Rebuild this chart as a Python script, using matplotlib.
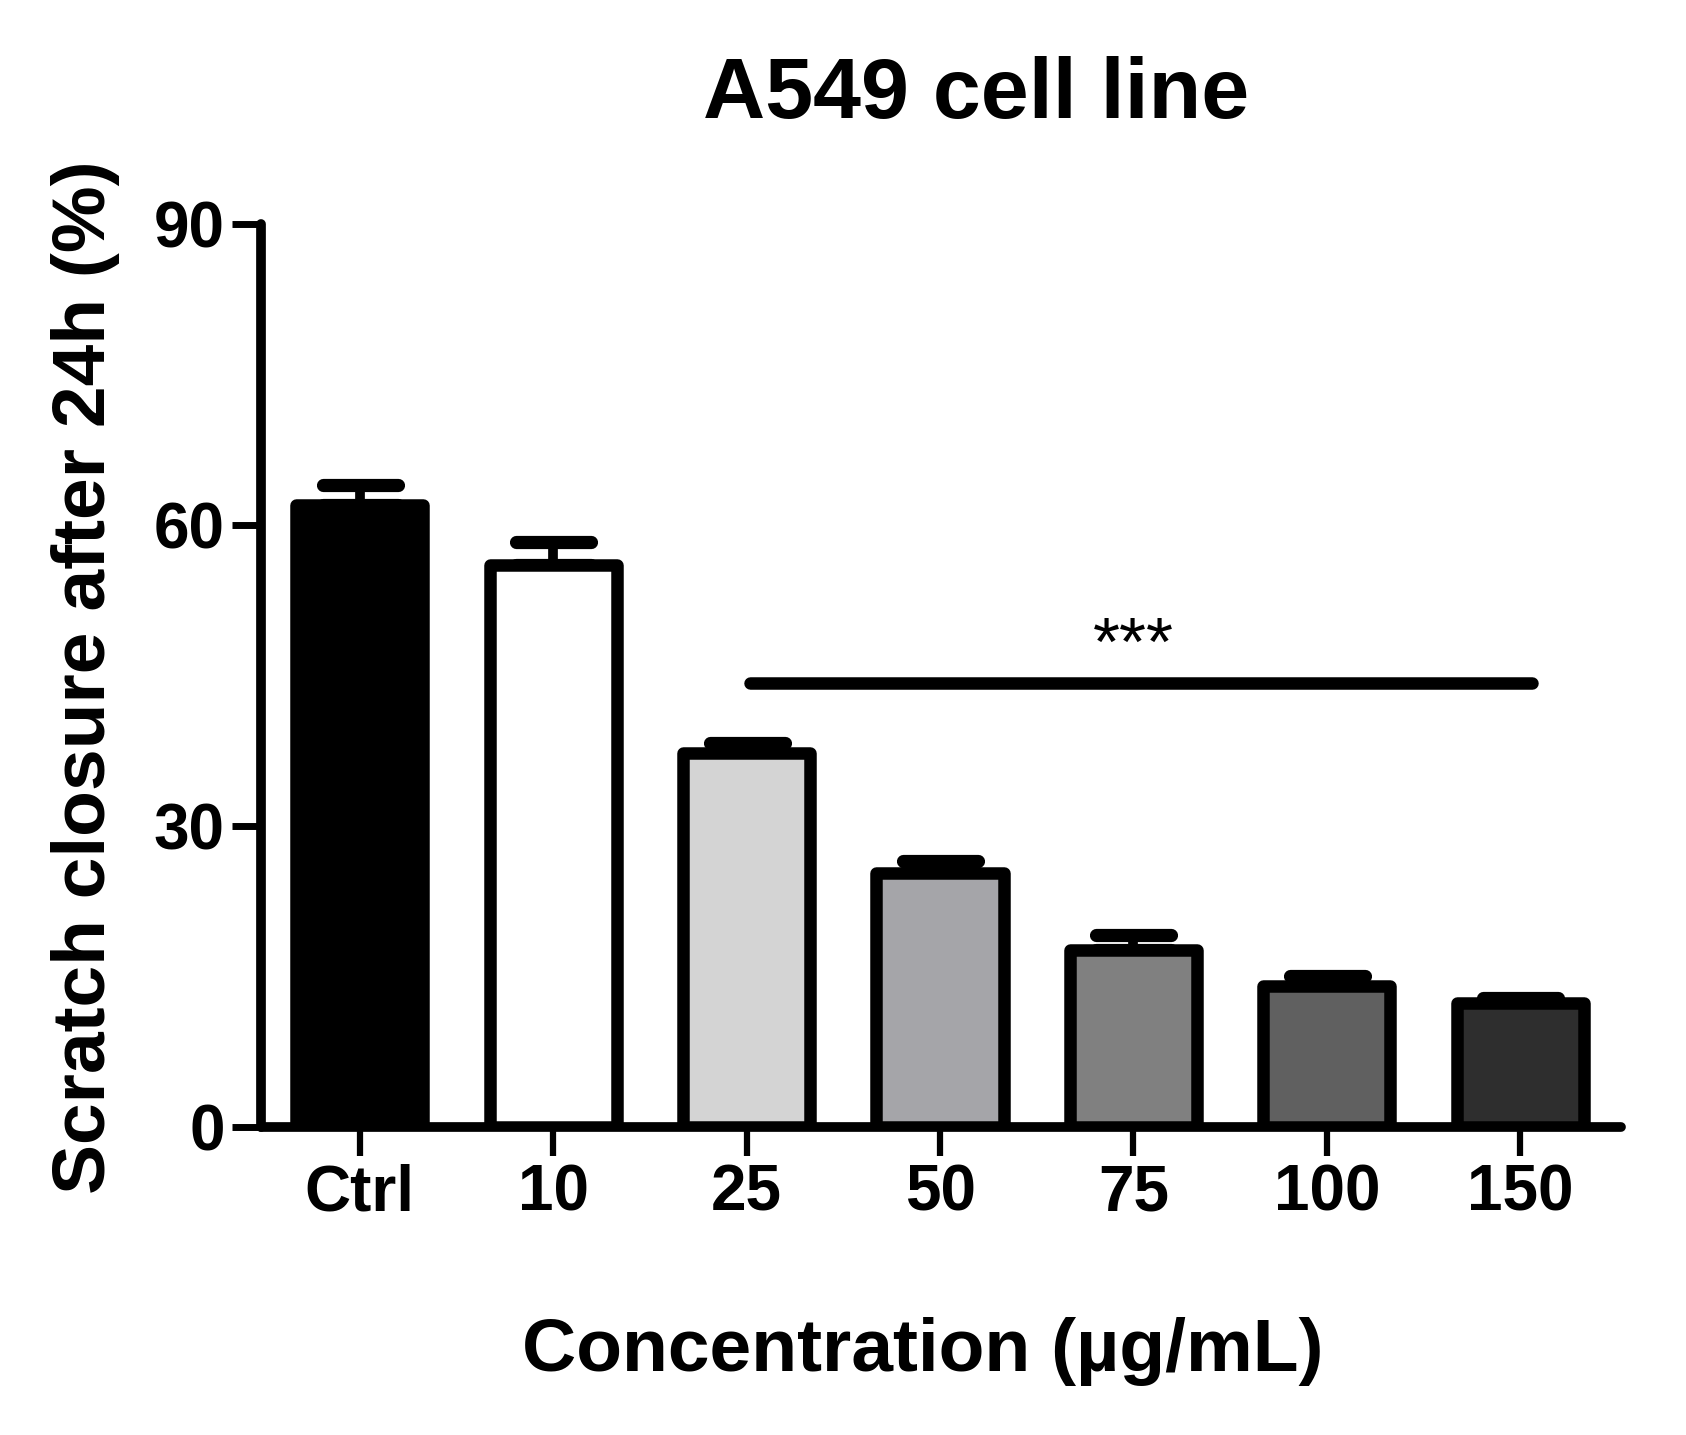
import matplotlib
matplotlib.use("Agg")
import matplotlib.pyplot as plt
from matplotlib.markers import MarkerStyle
import numpy as np

plt.rcParams['font.family'] = ['Liberation Sans', 'DejaVu Sans']

categories = ["Ctrl", "10", "25", "50", "75", "100", "150"]
means = [62.0, 56.0, 37.3, 25.3, 17.6, 14.0, 12.4]
errors = [2.0, 2.3, 1.0, 1.2, 1.5, 1.0, 0.5]
colors = ["#000000", "#ffffff", "#d4d4d4", "#a5a5a9", "#808080", "#606060", "#2e2e2e"]
yticks = [0, 30, 60, 90]
sig_start, sig_end = "25", "150"
sig_y = 44.2
sig_text_y = 46.0

fig = plt.figure(figsize=(16.86, 14.35), dpi=100)
ax = fig.add_axes([261/1686, 1 - 1127/1435, (1621 - 261)/1686, (1127 - 223.7)/1435])

x = np.arange(len(categories))
eb = ax.errorbar(x, means, yerr=[np.zeros(len(means)), errors], fmt='none',
                 ecolor='black', elinewidth=7, capsize=27, capthick=9.5, zorder=2)
for cl in eb[1]:
    cl.set_marker(MarkerStyle('_', capstyle='round'))
ax.bar(x, means, width=0.657, color=colors, edgecolor='black', linewidth=9,
       joinstyle='round', zorder=3)

i0, i1 = categories.index(sig_start), categories.index(sig_end)
ax.plot([x[i0] + 0.02, x[i1] + 0.06], [sig_y, sig_y], color='black', lw=9,
        solid_capstyle='round', zorder=4)
ax.text((x[i0] + x[i1]) / 2, sig_text_y, "***", ha='center', va='baseline',
        fontsize=50, zorder=4)

ax.set_xlim(-0.51, 6.52)
ax.set_ylim(0, 90)
ax.set_xticks(x)
ax.set_xticklabels(categories, fontsize=46, fontweight='bold')
ax.set_yticks(yticks)
ax.set_yticklabels([str(v) for v in yticks], fontsize=46, fontweight='bold')
ax.tick_params(axis='y', length=21, width=5, pad=5, direction='out')
ax.tick_params(axis='x', length=21, width=4.5, pad=5, direction='out')
for s in ['top', 'right']:
    ax.spines[s].set_visible(False)
for s in ['left', 'bottom']:
    ax.spines[s].set_linewidth(7)
    ax.spines[s].set_capstyle('round')

fig.text(976/1686, 1 - 118/1435, "A549 cell line", ha='center', va='baseline',
         fontsize=62, fontweight='bold')
fig.text(923/1686, 1 - 1371/1435, "Concentration (µg/mL)", ha='center', va='baseline',
         fontsize=54, fontweight='bold')
fig.text(86/1686, 1 - 677/1435, "Scratch closure after 24h (%)", ha='center', va='center',
         rotation=90, fontsize=54, fontweight='bold')

fig.savefig("out.png", dpi=100)
